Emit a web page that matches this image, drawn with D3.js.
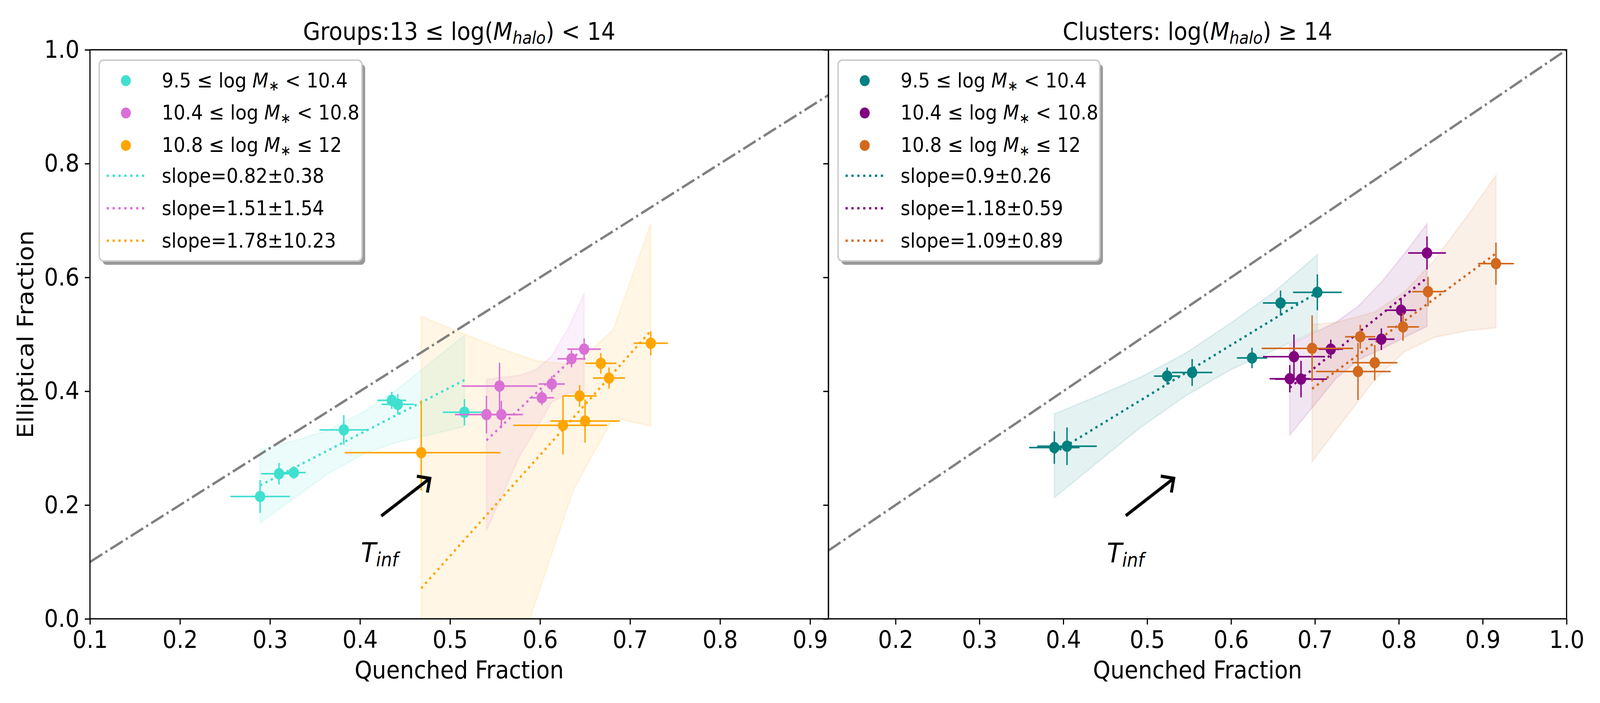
<!DOCTYPE html>
<html lang="en">
<head>
<meta charset="UTF-8">
<script src="https://cdn.jsdelivr.net/npm/d3@7"></script>
<title>Elliptical vs quenched fraction</title>
<style>
  html, body { margin: 0; padding: 0; background: #fff; overflow: hidden; }
  #chart { display: block; width: 100vw; height: 100vh; }
  svg text { font-family: "DejaVu Sans", sans-serif; white-space: pre; }
</style>
</head>
<body>
<svg id="chart" viewBox="0 0 4500 1800" preserveAspectRatio="none"></svg>
<script>
// ---------- data ----------
const yTicks = [0.0, 0.2, 0.4, 0.6, 0.8, 1.0];
const groupsTicks = [0.1, 0.2, 0.3, 0.4, 0.5, 0.6, 0.7, 0.8, 0.9];
const clustersTicks = [0.2, 0.3, 0.4, 0.5, 0.6, 0.7, 0.8, 0.9, 1.0];

const massLabels = [
  [["9.5 ≤ log ", ""], ["M", "i"], ["∗", "sub"], [" < 10.4", ""]],
  [["10.4 ≤ log ", ""], ["M", "i"], ["∗", "sub"], [" < 10.8", ""]],
  [["10.8 ≤ log ", ""], ["M", "i"], ["∗", "sub"], [" ≤ 12", ""]]
];
const groupsSlopes = ["slope=0.82±0.38", "slope=1.51±1.54", "slope=1.78±10.23"];
const clustersSlopes = ["slope=0.9±0.26", "slope=1.18±0.59", "slope=1.09±0.89"];

// Groups: 13 <= log(Mhalo) < 14
const turqX    = [0.289, 0.310, 0.3265, 0.382, 0.4353, 0.442, 0.516];
const turqY    = [0.215, 0.255, 0.257, 0.332, 0.384, 0.377, 0.363];
const turqXerr = [0.033, 0.020, 0.013, 0.027, 0.016, 0.018, 0.024];
const turqYerr = [0.029, 0.019, 0.011, 0.026, 0.015, 0.018, 0.023];
const turqFitX = [0.289, 0.516];
const turqFitY = [0.2345, 0.4196];
const turqBandX  = [0.289, 0.310, 0.327, 0.3655, 0.404, 0.4385, 0.516];
const turqBandHi = [0.297, 0.306, 0.313, 0.332, 0.364, 0.400, 0.498];
const turqBandLo = [0.169, 0.193, 0.212, 0.256, 0.290, 0.309, 0.338];

const orchidX    = [0.5405, 0.555, 0.557, 0.602, 0.613, 0.635, 0.649];
const orchidY    = [0.359, 0.409, 0.359, 0.3885, 0.4126, 0.457, 0.474];
const orchidXerr = [0.035, 0.042, 0.024, 0.0136, 0.0146, 0.0155, 0.0186];
const orchidYerr = [0.033, 0.041, 0.024, 0.013, 0.014, 0.015, 0.019];
const orchidFitX = [0.5405, 0.649];
const orchidFitY = [0.3137, 0.477];
const orchidBandX  = [0.5405, 0.5775, 0.5955, 0.613, 0.6315, 0.649];
const orchidBandHi = [0.421, 0.428, 0.438, 0.462, 0.511, 0.572];
const orchidBandLo = [0.155, 0.287, 0.334, 0.381, 0.396, 0.402];

const orangeX    = [0.468, 0.6255, 0.644, 0.650, 0.6675, 0.6766, 0.723];
const orangeY    = [0.292, 0.340, 0.3917, 0.3476, 0.449, 0.4232, 0.4843];
const orangeXerr = [[0.085, 0.088], [0.055, 0.049], 0.019, 0.0386, 0.0173, 0.0178, 0.019];
const orangeYerr = [[0.066, 0.092], 0.051, 0.019, 0.038, 0.018, 0.0185, 0.021];
const orangeFitX = [0.468, 0.723];
const orangeFitY = [0.0537, 0.506];
const orangeBandX  = [0.468, 0.5525, 0.5955, 0.6375, 0.681, 0.723];
const orangeBandHi = [0.5315, 0.477, 0.4536, 0.446, 0.507, 0.695];
const orangeBandLo = [-0.5, -0.17, 0.032, 0.228, 0.353, 0.339];

// Clusters: log(Mhalo) >= 14
const tealX    = [0.3893, 0.4044, 0.5238, 0.5536, 0.625, 0.659, 0.7029];
const tealY    = [0.301, 0.3033, 0.4266, 0.4329, 0.4585, 0.555, 0.5738];
const tealXerr = [0.030, 0.0355, 0.0156, 0.024, 0.018, 0.021, 0.029];
const tealYerr = [0.0286, 0.033, 0.015, 0.0236, 0.018, 0.022, 0.0315];
const tealFitX = [0.3893, 0.7029];
const tealFitY = [0.2915, 0.5737];
const tealBandX  = [0.3893, 0.4416, 0.4927, 0.546, 0.5997, 0.651, 0.7029];
const tealBandHi = [0.360, 0.392, 0.425, 0.467, 0.520, 0.574, 0.640];
const tealBandLo = [0.213, 0.276, 0.337, 0.392, 0.438, 0.472, 0.5075];

const purpleX    = [0.670, 0.675, 0.6834, 0.7189, 0.7792, 0.8027, 0.8336];
const purpleY    = [0.422, 0.4607, 0.4213, 0.474, 0.4914, 0.5423, 0.643];
const purpleXerr = [0.024, 0.037, 0.031, 0.0146, 0.0156, 0.018, 0.0225];
const purpleYerr = [0.024, 0.039, 0.032, 0.0167, 0.019, 0.0217, 0.029];
const purpleFitX = [0.670, 0.8336];
const purpleFitY = [0.4063, 0.5994];
const purpleBandX  = [0.670, 0.7248, 0.7514, 0.7806, 0.8073, 0.8336];
const purpleBandHi = [0.482, 0.521, 0.549, 0.594, 0.643, 0.694];
const purpleBandLo = [0.323, 0.422, 0.455, 0.475, 0.495, 0.514];

const chocX    = [0.6966, 0.7513, 0.754, 0.7713, 0.805, 0.8348, 0.9158];
const chocY    = [0.4753, 0.4347, 0.4957, 0.450, 0.5131, 0.575, 0.6242];
const chocXerr = [[0.060, 0.049], [0.050, 0.039], 0.018, 0.027, 0.019, 0.019, 0.0214];
const chocYerr = [0.058, 0.050, 0.021, 0.031, 0.0245, 0.026, 0.037];
const chocFitX = [0.6966, 0.9158];
const chocFitY = [0.4043, 0.6421];
const chocBandX  = [0.6966, 0.7248, 0.771, 0.8063, 0.8428, 0.8805, 0.9158];
const chocBandHi = [0.517, 0.521, 0.539, 0.574, 0.631, 0.706, 0.779];
const chocBandLo = [0.276, 0.331, 0.420, 0.469, 0.495, 0.506, 0.5115];

// T_inf annotations: [tail, tip] and text anchor, in data units
const groupsArrow = [[0.4236, 0.1807], [0.4776, 0.2468]];
const groupsArrowText = [0.401, 0.100];
const clustersArrow = [[0.4745, 0.1813], [0.5317, 0.2469]];
const clustersArrowText = [0.452, 0.099];

// ---------- build series tables ----------
function makeSeries(color, xs, ys, xe, ye, fx, fy, bx, bhi, blo, label, fitLabel) {
  return {
    color, label, fitLabel,
    points: xs.map((x, i) => ({ x, y: ys[i], xe: xe[i], ye: ye[i] })),
    fit: fx.map((x, i) => ({ x, y: fy[i] })),
    band: bx.map((x, i) => ({ x, hi: bhi[i], lo: blo[i] }))
  };
}

const panels = [
  {
    id: "groups",
    x: d3.scaleLinear([0.1, 0.9204], [253, 2330]),
    ticks: groupsTicks, yLabels: true,
    title: [["Groups:13 ≤ log(", ""], ["M", "i"], ["halo", "isub"], [") < 14", ""]],
    legendX: 279, legendW: 739,
    arrow: groupsArrow, arrowText: groupsArrowText,
    series: [
      makeSeries("#40E0D0", turqX, turqY, turqXerr, turqYerr, turqFitX, turqFitY, turqBandX, turqBandHi, turqBandLo, massLabels[0], groupsSlopes[0]),
      makeSeries("#DA70D6", orchidX, orchidY, orchidXerr, orchidYerr, orchidFitX, orchidFitY, orchidBandX, orchidBandHi, orchidBandLo, massLabels[1], groupsSlopes[1]),
      makeSeries("#FFA500", orangeX, orangeY, orangeXerr, orangeYerr, orangeFitX, orangeFitY, orangeBandX, orangeBandHi, orangeBandLo, massLabels[2], groupsSlopes[2])
    ]
  },
  {
    id: "clusters",
    x: d3.scaleLinear([0.12, 1.0], [2330, 4406]),
    ticks: clustersTicks, yLabels: false,
    title: [["Clusters: log(", ""], ["M", "i"], ["halo", "isub"], [") ≥ 14", ""]],
    legendX: 2357, legendW: 736,
    arrow: clustersArrow, arrowText: clustersArrowText,
    series: [
      makeSeries("#008080", tealX, tealY, tealXerr, tealYerr, tealFitX, tealFitY, tealBandX, tealBandHi, tealBandLo, massLabels[0], clustersSlopes[0]),
      makeSeries("#800080", purpleX, purpleY, purpleXerr, purpleYerr, purpleFitX, purpleFitY, purpleBandX, purpleBandHi, purpleBandLo, massLabels[1], clustersSlopes[1]),
      makeSeries("#D2691E", chocX, chocY, chocXerr, chocYerr, chocFitX, chocFitY, chocBandX, chocBandHi, chocBandLo, massLabels[2], clustersSlopes[2])
    ]
  }
];

// ---------- drawing ----------
const svg = d3.select("#chart");
const y = d3.scaleLinear([0, 1], [1584.5, 127.5]);
const FS = 62.5;       // tick / label / title size
const LFS = 52;        // legend size
const LW = 3.3;        // spine and tick width

const lo = e => Array.isArray(e) ? e[0] : e;
const hi = e => Array.isArray(e) ? e[1] : e;

// rich text with italic and subscript runs
function richText(sel, parts, size) {
  let shift = 0;
  parts.forEach(([t, s]) => {
    const sub = s.indexOf("sub") >= 0;
    const target = sub ? size * 0.16 : 0;
    const ts = sel.append("tspan").text(t).attr("dy", target - shift);
    shift = target;
    if (s.indexOf("i") === 0) ts.attr("font-style", "italic");
    if (sub) ts.attr("font-size", size * 0.7);
  });
}

panels.forEach(p => {
  const x = p.x;
  const [x0, x1] = x.range();
  const g = svg.append("g").attr("class", p.id);

  g.append("clipPath").attr("id", "clip-" + p.id)
    .append("rect").attr("x", x0).attr("y", y(1)).attr("width", x1 - x0).attr("height", y(0) - y(1));
  const plot = g.append("g").attr("clip-path", `url(#clip-${p.id})`);

  // shaded bands
  const area = d3.area().x(d => x(d.x)).y0(d => y(d.lo)).y1(d => y(d.hi));
  p.series.forEach(s => {
    plot.append("path").datum(s.band).attr("d", area)
      .attr("fill", s.color).attr("fill-opacity", 0.1)
      .attr("stroke", s.color).attr("stroke-opacity", 0.1).attr("stroke-width", 4);
  });

  // one-to-one line
  const dom = x.domain();
  plot.append("path")
    .attr("d", d3.line().x(d => x(d)).y(d => y(d))(dom))
    .attr("stroke", "#808080").attr("stroke-width", 6.25).attr("fill", "none")
    .attr("stroke-dasharray", "40 10 6.25 10");

  // fit lines
  const line = d3.line().x(d => x(d.x)).y(d => y(d.y));
  p.series.forEach(s => {
    plot.append("path").datum(s.fit).attr("d", line)
      .attr("stroke", s.color).attr("stroke-width", 6).attr("fill", "none")
      .attr("stroke-dasharray", "6.25 10.3");
  });

  // error bars and points
  p.series.forEach(s => {
    const sg = plot.append("g");
    sg.selectAll("line.xe").data(s.points).join("line").attr("class", "xe")
      .attr("x1", d => x(d.x - lo(d.xe))).attr("x2", d => x(d.x + hi(d.xe)))
      .attr("y1", d => y(d.y)).attr("y2", d => y(d.y))
      .attr("stroke", s.color).attr("stroke-width", 4);
    sg.selectAll("line.ye").data(s.points).join("line").attr("class", "ye")
      .attr("x1", d => x(d.x)).attr("x2", d => x(d.x))
      .attr("y1", d => y(d.y - lo(d.ye))).attr("y2", d => y(d.y + hi(d.ye)))
      .attr("stroke", s.color).attr("stroke-width", 4);
    sg.selectAll("circle").data(s.points).join("circle")
      .attr("cx", d => x(d.x)).attr("cy", d => y(d.y)).attr("r", 14.5)
      .attr("fill", s.color);
  });

  // T_inf arrow
  const [tail, tip] = p.arrow;
  const tx = x(tail[0]), ty = y(tail[1]), hx = x(tip[0]), hy = y(tip[1]);
  const ang = Math.atan2(ty - hy, tx - hx);
  const arm = 37, spread = 44 * Math.PI / 180;
  g.append("line").attr("x1", tx).attr("y1", ty).attr("x2", hx).attr("y2", hy)
    .attr("stroke", "#000").attr("stroke-width", 8.3);
  g.append("path")
    .attr("d", `M${hx + arm * Math.cos(ang + spread)},${hy + arm * Math.sin(ang + spread)}L${hx},${hy}L${hx + arm * Math.cos(ang - spread)},${hy + arm * Math.sin(ang - spread)}`)
    .attr("stroke", "#000").attr("stroke-width", 8.3).attr("fill", "none")
    .attr("stroke-linejoin", "miter");
  richText(g.append("text").attr("x", x(p.arrowText[0])).attr("y", y(p.arrowText[1]))
    .attr("font-size", 70).attr("fill", "#000"), [["T", "i"], ["inf", "isub"]], 70);

  // axes
  const xAxis = d3.axisBottom(x).tickValues(p.ticks).tickFormat(d3.format(".1f"))
    .tickSize(14.6).tickSizeOuter(0).tickPadding(16);
  const xa = g.append("g").attr("transform", `translate(0,${y(0)})`).call(xAxis);
  const yAxis = d3.axisLeft(y).tickValues(yTicks)
    .tickFormat(p.yLabels ? d3.format(".1f") : "")
    .tickSize(14.6).tickSizeOuter(0).tickPadding(15);
  const ya = g.append("g").attr("transform", `translate(${x0},0)`).call(yAxis);
  [xa, ya].forEach(a => {
    a.select(".domain").remove();
    a.selectAll(".tick line").attr("stroke", "#000").attr("stroke-width", LW);
    a.selectAll(".tick text").attr("font-size", FS).attr("fill", "#000")
      .attr("font-family", "DejaVu Sans");
  });

  // frame
  g.append("rect").attr("x", x0).attr("y", y(1)).attr("width", x1 - x0).attr("height", y(0) - y(1))
    .attr("fill", "none").attr("stroke", "#000").attr("stroke-width", LW);

  // titles and labels
  const cx = (x0 + x1) / 2;
  richText(g.append("text").attr("x", cx).attr("y", 102).attr("text-anchor", "middle")
    .attr("font-size", FS).attr("fill", "#000"), p.title, FS);
  g.append("text").attr("x", cx).attr("y", 1737).attr("text-anchor", "middle")
    .attr("font-size", FS).attr("fill", "#000").text("Quenched Fraction");

  // legend
  const lg = g.append("g").attr("transform", `translate(${p.legendX},154)`);
  lg.append("rect").attr("x", 9).attr("y", 10).attr("width", p.legendW).attr("height", 514)
    .attr("rx", 12).attr("fill", "#999");
  lg.append("rect").attr("x", 0).attr("y", 0).attr("width", p.legendW).attr("height", 514)
    .attr("rx", 12).attr("fill", "#fff").attr("stroke", "#cccccc").attr("stroke-width", 4);
  const rowsY = [52.6, 135.3, 218.4, 296, 379.2, 462.3];
  p.series.forEach((s, i) => {
    lg.append("circle").attr("cx", 75).attr("cy", rowsY[i]).attr("r", 14).attr("fill", s.color);
    richText(lg.append("text").attr("x", 176).attr("y", rowsY[i] + 17)
      .attr("font-size", LFS).attr("fill", "#000"), s.label, LFS);
  });
  p.series.forEach((s, i) => {
    const ry = rowsY[i + 3];
    lg.append("line").attr("x1", 21).attr("x2", 127).attr("y1", ry).attr("y2", ry)
      .attr("stroke", s.color).attr("stroke-width", 6).attr("stroke-dasharray", "6.25 10.3");
    lg.append("text").attr("x", 176).attr("y", ry + 18)
      .attr("font-size", LFS).attr("fill", "#000").text(s.fitLabel);
  });
});

// shared y label
svg.append("text").attr("transform", `translate(93,${(y(0) + y(1)) / 2}) rotate(-90)`)
  .attr("text-anchor", "middle").attr("font-size", FS).attr("fill", "#000")
  .text("Elliptical Fraction");
</script>
</body>
</html>
